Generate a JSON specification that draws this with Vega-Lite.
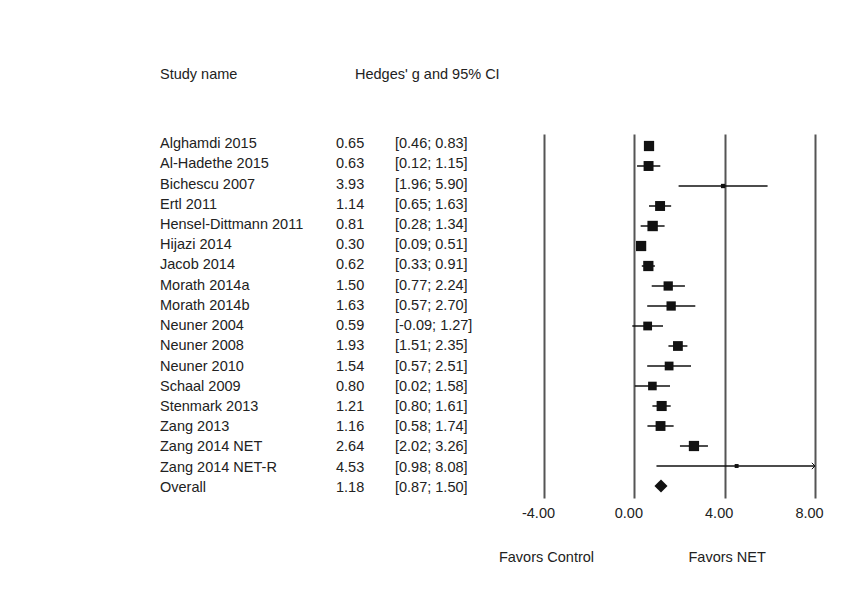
{
  "$schema": "https://vega.github.io/schema/vega-lite/v6.json",
  "background": "white",
  "padding": {"left": 160, "top": 66, "right": 28, "bottom": 32},
  "bounds": "flush",
  "spacing": 0,
  "config": {
    "view": {"stroke": null},
    "font": "Liberation Sans",
    "locale": {"number": {"decimal": ".", "thousands": ",", "grouping": [3], "currency": ["$", ""], "minus": "-"}},
    "text": {"font": "Liberation Sans", "fontSize": 14.5, "color": "#222", "align": "left"},
    "title": {"font": "Liberation Sans", "fontSize": 14.5, "fontWeight": "normal", "color": "#222", "anchor": "start"}
  },
  "data": {
    "values": [
      {"study": "Alghamdi 2015", "g": 0.65, "lo": 0.46, "hi": 0.83, "ci": "[0.46; 0.83]", "w": 6.8, "type": "study"},
      {"study": "Al-Hadethe 2015", "g": 0.63, "lo": 0.12, "hi": 1.15, "ci": "[0.12; 1.15]", "w": 6.4, "type": "study"},
      {"study": "Bichescu 2007", "g": 3.93, "lo": 1.96, "hi": 5.90, "ci": "[1.96; 5.90]", "w": 1.2, "type": "study"},
      {"study": "Ertl 2011", "g": 1.14, "lo": 0.65, "hi": 1.63, "ci": "[0.65; 1.63]", "w": 6.4, "type": "study"},
      {"study": "Hensel-Dittmann 2011", "g": 0.81, "lo": 0.28, "hi": 1.34, "ci": "[0.28; 1.34]", "w": 7.0, "type": "study"},
      {"study": "Hijazi 2014", "g": 0.30, "lo": 0.09, "hi": 0.51, "ci": "[0.09; 0.51]", "w": 6.8, "type": "study"},
      {"study": "Jacob 2014", "g": 0.62, "lo": 0.33, "hi": 0.91, "ci": "[0.33; 0.91]", "w": 6.8, "type": "study"},
      {"study": "Morath 2014a", "g": 1.50, "lo": 0.77, "hi": 2.24, "ci": "[0.77; 2.24]", "w": 5.6, "type": "study"},
      {"study": "Morath 2014b", "g": 1.63, "lo": 0.57, "hi": 2.70, "ci": "[0.57; 2.70]", "w": 5.6, "type": "study"},
      {"study": "Neuner 2004", "g": 0.59, "lo": -0.09, "hi": 1.27, "ci": "[-0.09; 1.27]", "w": 5.0, "type": "study"},
      {"study": "Neuner 2008", "g": 1.93, "lo": 1.51, "hi": 2.35, "ci": "[1.51; 2.35]", "w": 6.2, "type": "study"},
      {"study": "Neuner 2010", "g": 1.54, "lo": 0.57, "hi": 2.51, "ci": "[0.57; 2.51]", "w": 5.0, "type": "study"},
      {"study": "Schaal 2009", "g": 0.80, "lo": 0.02, "hi": 1.58, "ci": "[0.02; 1.58]", "w": 4.8, "type": "study"},
      {"study": "Stenmark 2013", "g": 1.21, "lo": 0.80, "hi": 1.61, "ci": "[0.80; 1.61]", "w": 6.6, "type": "study"},
      {"study": "Zang 2013", "g": 1.16, "lo": 0.58, "hi": 1.74, "ci": "[0.58; 1.74]", "w": 6.3, "type": "study"},
      {"study": "Zang 2014 NET", "g": 2.64, "lo": 2.02, "hi": 3.26, "ci": "[2.02; 3.26]", "w": 6.8, "type": "study"},
      {"study": "Zang 2014 NET-R", "g": 4.53, "lo": 0.98, "hi": 8.08, "ci": "[0.98; 8.08]", "w": 1.0, "type": "study"},
      {"study": "Overall", "g": 1.18, "lo": 0.87, "hi": 1.50, "ci": "[0.87; 1.50]", "w": null, "type": "overall"}
    ]
  },
  "hconcat": [
    {
      "width": 176,
      "height": 364,
      "title": {"text": "Study name", "offset": 52},
      "mark": {"type": "text", "align": "left"},
      "encoding": {
        "x": {"value": 0},
        "y": {"field": "study", "type": "nominal", "sort": null, "axis": null, "scale": {"paddingInner": 0, "paddingOuter": 0.1}},
        "text": {"field": "study", "type": "nominal"}
      }
    },
    {
      "width": 59,
      "height": 364,
      "title": {"text": "Hedges' g and 95% CI", "offset": 52, "dx": 19},
      "mark": {"type": "text", "align": "left"},
      "encoding": {
        "x": {"value": 0},
        "y": {"field": "study", "type": "nominal", "sort": null, "axis": null, "scale": {"paddingInner": 0, "paddingOuter": 0.1}},
        "text": {"field": "g", "type": "quantitative", "format": ".2f"}
      }
    },
    {
      "width": 149,
      "height": 364,
      "mark": {"type": "text", "align": "left"},
      "encoding": {
        "x": {"value": 0},
        "y": {"field": "study", "type": "nominal", "sort": null, "axis": null, "scale": {"paddingInner": 0, "paddingOuter": 0.1}},
        "text": {"field": "ci", "type": "nominal"}
      }
    },
    {
      "width": 271,
      "height": 364,
      "layer": [
        {
          "transform": [{"filter": "datum.type == 'study'"}],
          "mark": {"type": "rule", "color": "#111", "strokeWidth": 1.5},
          "encoding": {
            "x": {
              "field": "lo", "type": "quantitative",
              "scale": {"domain": [-4, 8], "nice": false, "zero": false, "clamp": true},
              "axis": {
                "values": [-4, 0, 4, 8], "format": ".2f", "grid": true, "gridColor": "#555", "gridWidth": 2,
                "domain": false, "ticks": false, "labelFlush": false, "labelOffset": -6, "labelPadding": 8,
                "labelFontSize": 14.5, "labelColor": "#222", "labelFont": "Liberation Sans", "title": null, "orient": "bottom"
              }
            },
            "x2": {"field": "hi"},
            "y": {"field": "study", "type": "nominal", "sort": null, "axis": null, "scale": {"paddingInner": 0, "paddingOuter": 0.1}}
          }
        },
        {
          "transform": [{"filter": "datum.type == 'study'"}],
          "mark": {"type": "point", "shape": "square", "filled": true, "color": "#111", "opacity": 1},
          "encoding": {
            "x": {"field": "g", "type": "quantitative", "axis": null},
            "y": {"field": "study", "type": "nominal", "sort": null, "axis": null},
            "size": {"field": "w", "type": "quantitative", "scale": {"domain": [0, 7], "range": [0, 108]}, "legend": null}
          }
        },
        {
          "transform": [{"filter": "datum.type == 'overall'"}],
          "mark": {"type": "point", "shape": "diamond", "filled": true, "color": "#111", "opacity": 1, "size": 170},
          "encoding": {
            "x": {
              "field": "g", "type": "quantitative",
              "axis": {
                "values": [-4, 4], "labelExpr": "datum.value < 0 ? 'Favors Control' : 'Favors NET'",
                "grid": false, "domain": false, "ticks": false, "labelFlush": false, "labelOverlap": false,
                "labelPadding": 52, "labelOffset": 2, "labelFontSize": 14.5, "labelColor": "#222",
                "labelFont": "Liberation Sans", "title": null, "orient": "bottom"
              }
            },
            "y": {"field": "study", "type": "nominal", "sort": null, "axis": null}
          }
        },
        {
          "transform": [{"filter": "datum.hi > 8"}],
          "mark": {"type": "point", "shape": "M-1,-1L0,0L-1,1", "filled": false, "color": "#111", "strokeWidth": 1, "opacity": 1, "size": 40},
          "encoding": {
            "x": {"field": "hi", "type": "quantitative", "axis": null},
            "y": {"field": "study", "type": "nominal", "sort": null, "axis": null}
          }
        }
      ],
      "resolve": {"axis": {"x": "independent"}}
    }
  ]
}
